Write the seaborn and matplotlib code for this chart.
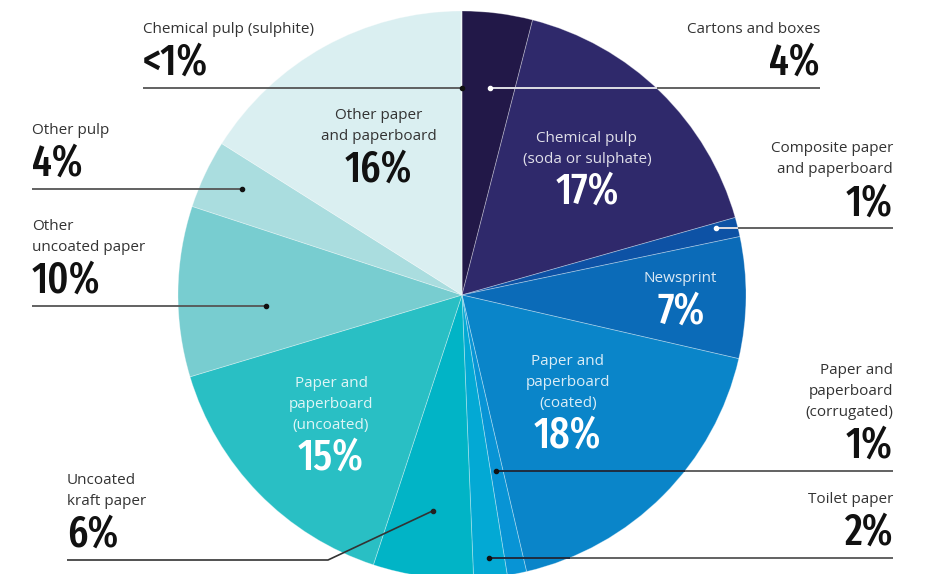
import os
import numpy as np
import matplotlib
matplotlib.use("Agg")
import matplotlib.pyplot as plt
from matplotlib import font_manager as fm
import seaborn as sns

# data, clockwise from 12 o'clock
categories = ["Cartons and boxes", "Chemical pulp (soda or sulphate)",
              "Composite paper and paperboard", "Newsprint",
              "Paper and paperboard (coated)", "Paper and paperboard (corrugated)",
              "Toilet paper", "Uncoated kraft paper",
              "Paper and paperboard (uncoated)", "Other uncoated paper",
              "Other pulp", "Other paper and paperboard", "Chemical pulp (sulphite)"]
shares = [4.0, 16.6, 1.1, 6.9, 17.75, 1.1, 1.9, 5.7, 15.3, 9.7, 3.9, 16.0, 0.05]
pct_labels = ["4%", "17%", "1%", "7%", "18%", "1%", "2%", "6%", "15%", "10%", "4%", "16%", "<1%"]
label_lines = [["Cartons and boxes"], ["Chemical pulp", "(soda or sulphate)"],
               ["Composite paper", "and paperboard"], ["Newsprint"],
               ["Paper and", "paperboard", "(coated)"],
               ["Paper and", "paperboard", "(corrugated)"], ["Toilet paper"],
               ["Uncoated", "kraft paper"], ["Paper and", "paperboard", "(uncoated)"],
               ["Other", "uncoated paper"], ["Other pulp"],
               ["Other paper", "and paperboard"], ["Chemical pulp (sulphite)"]]
colors = ["#221848", "#2f296b", "#0d52a5", "#0b6bb8", "#0a85c9", "#0894d5",
          "#03a9d4", "#01b4c6", "#29bfc4", "#78cdd0", "#aadddf", "#daeff1", "#e6f4f5"]

W, H = 934, 574
CX, CY, R = 462, 295, 284

# labels inside the slices: index -> (radius fraction, dark text?)
inside = {1: (0.63, False), 3: (0.77, False), 4: (0.526, False),
          8: (0.644, False), 11: (0.606, True)}
# labels outside: index -> (angle frac in slice, radius frac, side, text x, white in pie)
outside = {0: (0.53, 0.735, "right", 820, True),
           2: (0.30, 0.926, "right", 893, True),
           5: (0.52, 0.63, "right", 893, False),
           6: (0.50, 0.93, "right", 893, False),
           7: (0.49, 0.767, "left", 67, False),
           9: (0.39, 0.69, "left", 32, False),
           10: (0.54, 0.86, "left", 32, False),
           12: (1.00, 0.73, "left", 143, False)}
kraft_line_y, kraft_elbow_x = 560, 328


def find_condensed(size):
    # narrowest bold-ish face that is installed
    files = set(fm.findSystemFonts()) | {f.fname for f in fm.fontManager.ttflist}
    best, best_score = None, None
    for f in files:
        b = os.path.splitext(os.path.basename(f))[0].lower().replace("_", "").replace(" ", "")
        if "italic" in b or "mono" in b:
            continue
        if "extracondensed" in b or "ultracondensed" in b:
            w = 0
        elif "semicondensed" in b:
            w = 2
        elif "condensed" in b or "narrow" in b or "cond" in b:
            w = 1
        else:
            continue
        if b.endswith("semibold") or b.endswith("medium"):
            g = 0
        elif b.endswith("bold") and "extrabold" not in b:
            g = 1
        elif "extrabold" in b:
            g = 2
        else:
            g = 3
        score = (w, g, b)
        if best_score is None or score < best_score:
            best, best_score = f, score
    if best:
        return fm.FontProperties(fname=best, size=size)
    return fm.FontProperties(family="DejaVu Sans", weight="bold", stretch="condensed", size=size)


sns.set_theme(style="white")
plt.rcParams["font.family"] = ["Open Sans", "DejaVu Sans"]
big = find_condensed(31)

fig = plt.figure(figsize=(W / 100, H / 100), dpi=100)
ax = fig.add_axes([0, 0, 1, 1])
wedges, _ = ax.pie(shares, colors=colors, startangle=-90, counterclock=True,
                   center=(CX, CY), radius=R,
                   wedgeprops=dict(edgecolor=(1, 1, 1, 0.35), linewidth=0.6))
ax.set_xlim(0, W)
ax.set_ylim(H, 0)
ax.set_aspect("auto")
ax.axis("off")


def point(i, t, rf):
    w = wedges[i]
    a = np.deg2rad(w.theta1 + t * (w.theta2 - w.theta1))
    return CX + rf * R * np.cos(a), CY + rf * R * np.sin(a)


small = 11
lc = "#555555"

for i, (rf, dark) in inside.items():
    x, y = point(i, 0.5, rf)
    n = len(label_lines[i])
    h = 11.5 + 21 * (n - 1) + 41
    b = y - h / 2 + 11.5
    ncol = "#333333" if dark else (1, 1, 1, 0.85)
    pcol = "#111111" if dark else "white"
    for k, s in enumerate(label_lines[i]):
        ax.text(x, b + 21 * k, s, ha="center", va="baseline", fontsize=small, color=ncol)
    ax.text(x, b + 21 * (n - 1) + 41, pct_labels[i], ha="center", va="baseline",
            fontproperties=big, color=pcol)

for i, (t, rf, side, tx, white) in outside.items():
    dx, dy = point(i, t, rf)
    ly = kraft_line_y if i == 7 else dy
    if i == 7:
        ax.plot([tx, kraft_elbow_x, dx], [ly, ly, dy], color="#333333", lw=1.2,
                solid_capstyle="butt", zorder=3)
        dotc = "#222222"
    elif side == "right":
        ax.plot([dx, tx], [ly, ly], color=lc, lw=1.3, solid_capstyle="butt", zorder=3)
        if white:
            ex = CX + np.sqrt(R ** 2 - (ly - CY) ** 2)
            ax.plot([dx, ex], [ly, ly], color="#e8e8f0", lw=1.3,
                    solid_capstyle="butt", zorder=4)
            dotc = "white"
        else:
            ax.plot([dx, min(tx, CX + np.sqrt(max(R ** 2 - (ly - CY) ** 2, 0)))], [ly, ly],
                    color="#1a2a40", lw=1.3, solid_capstyle="butt", zorder=4)
            dotc = "#111111"
    else:
        ax.plot([tx, dx], [ly, ly], color=lc, lw=1.3, solid_capstyle="butt", zorder=3)
        dotc = "#111111"
    ax.plot([dx], [dy], "o", ms=3, color=dotc, zorder=5)

    ha = "right" if side == "right" else "left"
    pb = ly - 13
    n = len(label_lines[i])
    ax.text(tx, pb, pct_labels[i], ha=ha, va="baseline", fontproperties=big, color="#111111")
    for k, s in enumerate(label_lines[i]):
        ax.text(tx, pb - 42 - 21 * (n - 1 - k), s, ha=ha, va="baseline",
                fontsize=small, color="#333333")

fig.savefig("out.png", dpi=100)
